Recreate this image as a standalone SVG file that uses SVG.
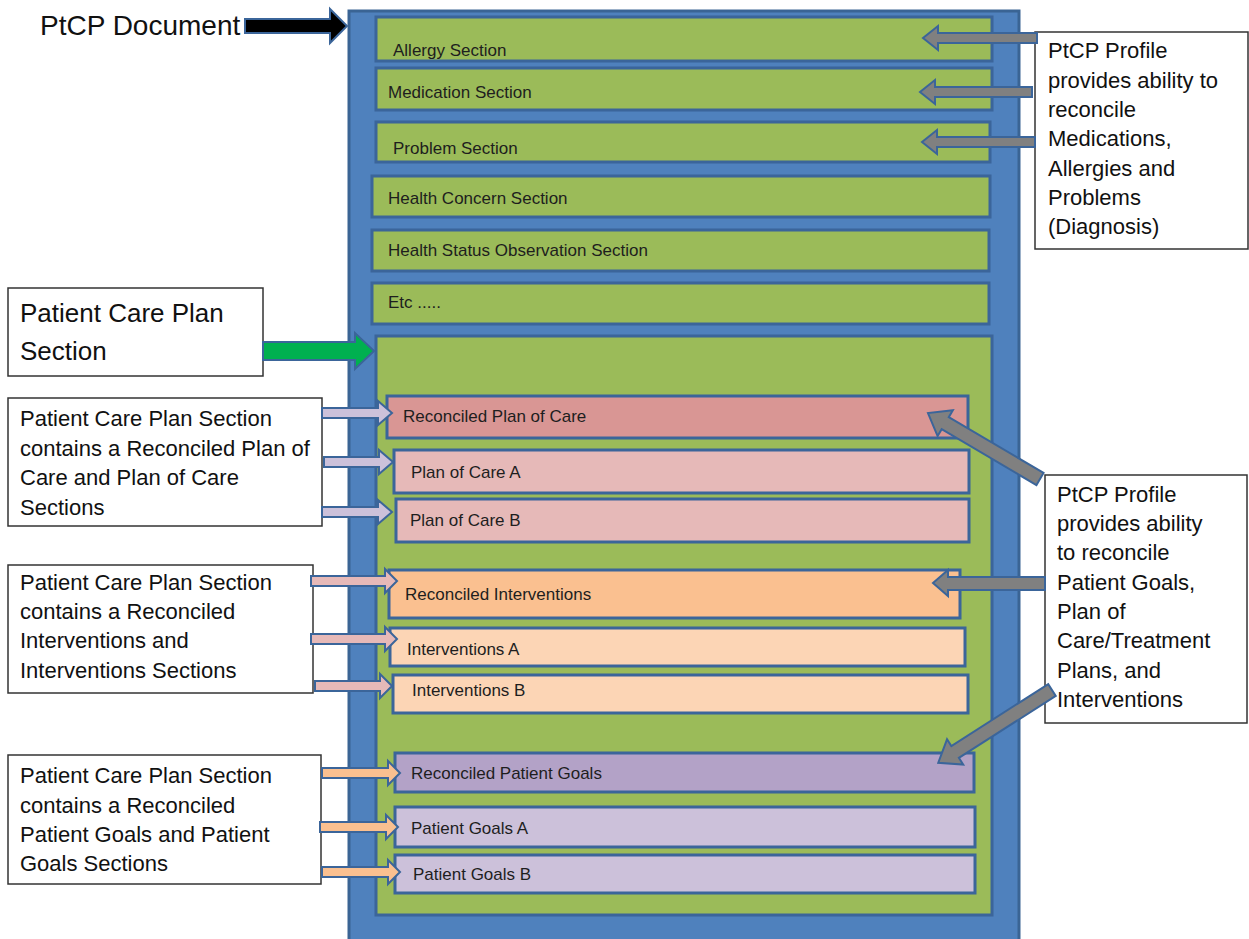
<svg xmlns="http://www.w3.org/2000/svg" width="1249" height="939" viewBox="0 0 1249 939">
<style>
.bx{stroke:#3B659A;stroke-width:3}
.g{fill:#9BBB59}
.t{font-family:"Liberation Sans",Arial,sans-serif;font-size:17px;fill:#1e1e1e}
.lt{font-family:"Liberation Sans",Arial,sans-serif;font-size:22px;fill:#111}
.note{fill:#fff;stroke:#333;stroke-width:1.5}
.ar{stroke:#3B659A;stroke-width:2;stroke-linejoin:miter}
</style>
<rect width="1249" height="939" fill="#fff"/>
<g id="document">
<rect x="349" y="11" width="670" height="940" fill="#4F81BD" stroke="#3A6494" stroke-width="3"/>
</g>
<g id="allergy"><rect class="bx g" x="376" y="17" width="616" height="44"/><text class="t" x="393" y="56">Allergy Section</text></g>
<g id="medication"><rect class="bx g" x="376" y="68" width="616" height="42"/><text class="t" x="388" y="98">Medication Section</text></g>
<g id="problem"><rect class="bx g" x="376" y="122" width="614" height="40"/><text class="t" x="393" y="154">Problem Section</text></g>
<g id="healthconcern"><rect class="bx g" x="372" y="176" width="618" height="41"/><text class="t" x="388" y="204">Health Concern Section</text></g>
<g id="healthstatus"><rect class="bx g" x="372" y="230" width="617" height="41"/><text class="t" x="388" y="256">Health Status Observation Section</text></g>
<g id="etc"><rect class="bx g" x="372" y="283" width="617" height="41"/><text class="t" x="388" y="308">Etc .....</text></g>
<g id="careplansection"><rect class="bx g" x="376" y="336" width="616" height="579"/></g>
<g id="recplan"><rect class="bx" fill="#D99694" x="387" y="396" width="581" height="42"/><text class="t" x="403" y="422">Reconciled Plan of Care</text></g>
<g id="planA"><rect class="bx" fill="#E6B9B8" x="394" y="450" width="575" height="43"/><text class="t" x="411" y="478">Plan of Care A</text></g>
<g id="planB"><rect class="bx" fill="#E6B9B8" x="396" y="499" width="573" height="43"/><text class="t" x="410" y="526">Plan of Care B</text></g>
<g id="recint"><rect class="bx" fill="#FAC090" x="389" y="570" width="571" height="48"/><text class="t" x="405" y="600">Reconciled Interventions</text></g>
<g id="intA"><rect class="bx" fill="#FCD5B5" x="390" y="628" width="575" height="38"/><text class="t" x="407" y="655">Interventions A</text></g>
<g id="intB"><rect class="bx" fill="#FCD5B5" x="393" y="675" width="575" height="38"/><text class="t" x="412" y="696">Interventions B</text></g>
<g id="recgoals"><rect class="bx" fill="#B3A2C7" x="395" y="753" width="579" height="39"/><text class="t" x="411" y="779">Reconciled Patient Goals</text></g>
<g id="goalsA"><rect class="bx" fill="#CCC1DA" x="395" y="807" width="580" height="40"/><text class="t" x="411" y="834">Patient Goals A</text></g>
<g id="goalsB"><rect class="bx" fill="#CCC1DA" x="395" y="855" width="580" height="38"/><text class="t" x="413" y="880">Patient Goals B</text></g>

<g id="label-doc"><text class="lt" style="font-size:28px" x="40" y="35">PtCP Document</text></g>
<g id="label-cps"><rect class="note" x="8" y="288" width="255" height="88"/><text class="lt" style="font-size:26px" x="20" y="322">Patient Care Plan</text><text class="lt" style="font-size:26px" x="20" y="360">Section</text></g>
<g id="note1"><rect class="note" x="8" y="398" width="314" height="128"/>
<text class="lt" x="20" y="426">Patient Care Plan Section</text><text class="lt" x="20" y="456">contains a Reconciled Plan of</text><text class="lt" x="20" y="485">Care and Plan of Care</text><text class="lt" x="20" y="515">Sections</text></g>
<g id="note2"><rect class="note" x="8" y="565" width="305" height="128"/>
<text class="lt" x="20" y="590">Patient Care Plan Section</text><text class="lt" x="20" y="619">contains a Reconciled</text><text class="lt" x="20" y="648">Interventions and</text><text class="lt" x="20" y="678">Interventions Sections</text></g>
<g id="note3"><rect class="note" x="8" y="755" width="313" height="129"/>
<text class="lt" x="20" y="783">Patient Care Plan Section</text><text class="lt" x="20" y="813">contains a Reconciled</text><text class="lt" x="20" y="842">Patient Goals and Patient</text><text class="lt" x="20" y="871">Goals Sections</text></g>
<g id="note4"><rect class="note" x="1035" y="32" width="213" height="217"/>
<text class="lt" x="1048" y="58">PtCP Profile</text><text class="lt" x="1048" y="88">provides ability to</text><text class="lt" x="1048" y="117">reconcile</text><text class="lt" x="1048" y="146">Medications,</text><text class="lt" x="1048" y="176">Allergies and</text><text class="lt" x="1048" y="205">Problems</text><text class="lt" x="1048" y="234">(Diagnosis)</text></g>
<g id="note5"><rect class="note" x="1045" y="475" width="202" height="248"/>
<text class="lt" x="1057" y="502">PtCP Profile</text><text class="lt" x="1057" y="531">provides ability</text><text class="lt" x="1057" y="560">to reconcile</text><text class="lt" x="1057" y="590">Patient Goals,</text><text class="lt" x="1057" y="619">Plan of</text><text class="lt" x="1057" y="648">Care/Treatment</text><text class="lt" x="1057" y="678">Plans, and</text><text class="lt" x="1057" y="707">Interventions</text></g>

<g id="connectors">
<polygon class="ar" fill="#000" points="245,19 330,19 330,9 347,26 330,43 330,33 245,33"/>
<polygon class="ar" fill="#00B050" points="263,342 355,342 355,333 374,351 355,369 355,360 263,360"/>
<g fill="#CCC1DA" class="ar">
<polygon points="322,408 378,408 378,401 392,413 378,425 378,418 322,418"/>
<polygon points="324,457 379,457 379,450 393,462 379,474 379,467 324,467"/>
<polygon points="322,507 378,507 378,500 392,512 378,524 378,517 322,517"/>
</g>
<g fill="#E6B9B8" class="ar">
<polygon points="311,576 385,576 385,569 397,581 385,593 385,586 311,586"/>
<polygon points="311,634 385,634 385,627 397,639 385,651 385,644 311,644"/>
<polygon points="315,681 380,681 380,674 392,686 380,698 380,691 315,691"/>
</g>
<g fill="#FAC090" class="ar">
<polygon points="322,768 388,768 388,761 400,773 388,785 388,778 322,778"/>
<polygon points="320,822 386,822 386,815 398,827 386,839 386,832 320,832"/>
<polygon points="322,867 388,867 388,860 400,872 388,884 388,877 322,877"/>
</g>
<g fill="#808080" class="ar">
<polygon points="1037,33 938,33 938,26 923,38 938,50 938,43 1037,43"/>
<polygon points="1032,87 935,87 935,80 920,92 935,104 935,97 1032,97"/>
<polygon points="1035,137 937,137 937,130 922,142 937,154 937,147 1035,147"/>
<polygon points="1045,577 948,577 948,570 933,583 948,596 948,590 1045,590"/>
<polygon transform="translate(1040,479) rotate(210.5)" points="0,-7 110,-7 110,-15 130,0 110,15 110,7 0,7"/>
<polygon transform="translate(1052,690) rotate(147.4)" points="0,-7 115,-7 115,-15 135,0 115,15 115,7 0,7"/>
</g>
</g>
</svg>
